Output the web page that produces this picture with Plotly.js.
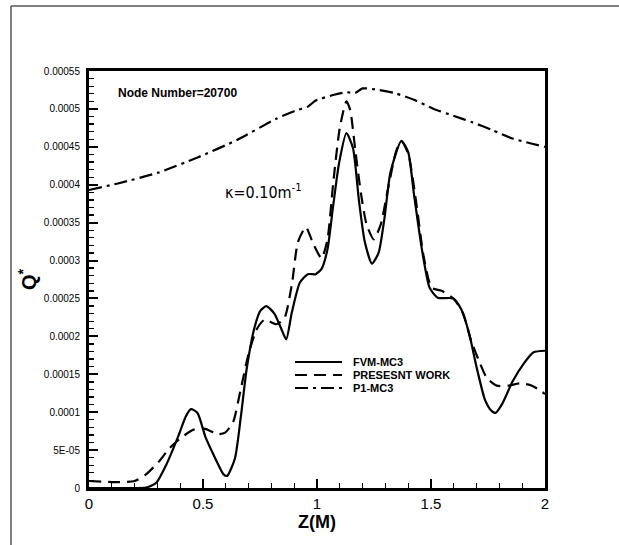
<!DOCTYPE html>
<html>
<head>
<meta charset="utf-8">
<script src="https://cdn.plot.ly/plotly-3.0.1.min.js"></script>
<style>
html,body{margin:0;padding:0;background:#fff;}
#chart{width:619px;height:545px;}
</style>
</head>
<body>
<div id="chart"></div>
<script>
// FVM-MC3 (solid)
var fvmZ = [0, 0.1, 0.2, 0.25, 0.295, 0.338, 0.39, 0.424, 0.447, 0.476, 0.511, 0.554, 0.59, 0.606, 0.64, 0.666, 0.692, 0.727, 0.752, 0.778, 0.813, 0.842, 0.865, 0.89, 0.925, 0.96, 0.994, 1.02, 1.046, 1.07, 1.097, 1.129, 1.158, 1.184, 1.21, 1.241, 1.27, 1.296, 1.322, 1.37, 1.4, 1.425, 1.46, 1.494, 1.529, 1.598, 1.632, 1.667, 1.701, 1.736, 1.762, 1.783, 1.814, 1.857, 1.909, 1.95, 2.0];
var fvmQ = [0, 0, 0, 0.0000005, 0.0000069, 0.00003, 0.000067, 0.000094, 0.000104, 0.000099, 0.000067, 0.000039, 0.000018, 0.000016, 0.000039, 0.000094, 0.000158, 0.000213, 0.000234, 0.00024, 0.00023, 0.000211, 0.000196, 0.000232, 0.000271, 0.000282, 0.000282, 0.000289, 0.000315, 0.00037, 0.000429, 0.000468, 0.000448, 0.000379, 0.000324, 0.000296, 0.00031, 0.000356, 0.000416, 0.000458, 0.000443, 0.000388, 0.000315, 0.000264, 0.000251, 0.00025, 0.000236, 0.000204, 0.000158, 0.000117, 0.000103, 0.000099, 0.000112, 0.00014, 0.000165, 0.000179, 0.000181];

// PRESESNT WORK (dashed)
var presZ = [0, 0.114, 0.2, 0.25, 0.304, 0.355, 0.407, 0.459, 0.51, 0.563, 0.597, 0.632, 0.666, 0.7, 0.735, 0.77, 0.821, 0.856, 0.89, 0.916, 0.951, 0.985, 1.02, 1.046, 1.071, 1.1, 1.129, 1.146, 1.167, 1.193, 1.218, 1.249, 1.279, 1.313, 1.348, 1.37, 1.4, 1.434, 1.468, 1.503, 1.546, 1.598, 1.641, 1.675, 1.71, 1.745, 1.788, 1.84, 1.89, 1.943, 2.0];
var presQ = [0.0000092, 0.0000078, 0.0000092, 0.000018, 0.000034, 0.000053, 0.000067, 0.000077, 0.000078, 0.000071, 0.000073, 0.000087, 0.000131, 0.000177, 0.000209, 0.000222, 0.000216, 0.000223, 0.000269, 0.000324, 0.000344, 0.000321, 0.000303, 0.000328, 0.000402, 0.000475, 0.00051, 0.000498, 0.000448, 0.000388, 0.000347, 0.000328, 0.000347, 0.000397, 0.000445, 0.000457, 0.000441, 0.000379, 0.000305, 0.000264, 0.00026, 0.00025, 0.00023, 0.000195, 0.000168, 0.000145, 0.000135, 0.000135, 0.000138, 0.000135, 0.000124];

// P1-MC3 (dash-dot)
var p1Z = [0, 0.131, 0.304, 0.476, 0.649, 0.821, 0.908, 0.96, 0.994, 1.08, 1.132, 1.167, 1.2, 1.27, 1.339, 1.425, 1.512, 1.598, 1.684, 1.77, 1.857, 2.0];
var p1Q = [0.000393, 0.000402, 0.000416, 0.000436, 0.000459, 0.000487, 0.000498, 0.000503, 0.000511, 0.000519, 0.000522, 0.000521, 0.000527, 0.000525, 0.000521, 0.000512, 0.0005, 0.000491, 0.000482, 0.000472, 0.000461, 0.00045];

var seriesNames = ["FVM-MC3", "PRESESNT WORK", "P1-MC3"];

var yTickVals = [0, 0.00005, 0.0001, 0.00015, 0.0002, 0.00025, 0.0003, 0.00035, 0.0004, 0.00045, 0.0005, 0.00055];
var yTickText = ["0", "5E-05", "0.0001", "0.00015", "0.0002", "0.00025", "0.0003", "0.00035", "0.0004", "0.00045", "0.0005", "0.00055"];
var xTickVals = [0, 0.5, 1, 1.5, 2];
var xTickText = ["0", "0.5", "1", "1.5", "2"];

var FONT = "Liberation Sans, Arial, Helvetica, sans-serif";
var dashes = ["solid", "12px,7px", "13px,5px,3px,5px"];

var traces = [
  {x: fvmZ, y: fvmQ, name: seriesNames[0], mode: "lines",
   line: {color: "#000", width: 2.2, dash: dashes[0], shape: "spline", smoothing: 0.6}},
  {x: presZ, y: presQ, name: seriesNames[1], mode: "lines",
   line: {color: "#000", width: 2.2, dash: dashes[1], shape: "spline", smoothing: 0.6}},
  {x: p1Z, y: p1Q, name: seriesNames[2], mode: "lines",
   line: {color: "#000", width: 2.2, dash: dashes[2], shape: "spline", smoothing: 0.6}}
];

var W = 456, H = 417;
function px2x(p){ return (p - 89) / W; }
function py2y(p){ return (488 - p) / H; }

var shapes = [
  {type: "line", xref: "paper", yref: "paper", x0: px2x(11), x1: px2x(11), y0: py2y(6), y1: py2y(545),
   line: {color: "#555", width: 1.5}},
  {type: "line", xref: "paper", yref: "paper", x0: px2x(11), x1: px2x(619), y0: py2y(6), y1: py2y(6),
   line: {color: "#555", width: 1.5}}
];
var annotations = [
  {xref: "paper", yref: "paper", x: px2x(116), y: py2y(93), xanchor: "left", yanchor: "middle",
   text: "<b>Node Number=20700</b>", showarrow: false, font: {family: FONT, size: 12, color: "#000"}},
  {xref: "paper", yref: "paper", x: px2x(223), y: py2y(191), xanchor: "left", yanchor: "middle",
   text: "κ=0.10m<sup>-1</sup>", showarrow: false, font: {family: "DejaVu Sans Condensed, DejaVu Sans, sans-serif", size: 16, color: "#000"}},
  {xref: "paper", yref: "paper", x: px2x(317), y: py2y(522), xanchor: "center", yanchor: "middle",
   text: "<b>Z(M)</b>", showarrow: false, font: {family: FONT, size: 18, color: "#000"}}
];
// manual legend (line samples + labels)
var legRows = [362, 375, 388];
for (var i = 0; i < seriesNames.length; i++) {
  shapes.push({type: "line", xref: "paper", yref: "paper",
    x0: px2x(295), x1: px2x(342), y0: py2y(legRows[i]), y1: py2y(legRows[i]),
    line: {color: "#000", width: 2.2, dash: dashes[i]}});
  annotations.push({xref: "paper", yref: "paper", x: px2x(351), y: py2y(legRows[i]),
    xanchor: "left", yanchor: "middle", showarrow: false,
    text: "<b>" + seriesNames[i] + "</b>", font: {family: FONT, size: 11, color: "#000"}});
}

var layout = {
  width: 619, height: 545,
  margin: {l: 89, r: 74, t: 71, b: 57, pad: 0},
  paper_bgcolor: "#fff", plot_bgcolor: "#fff",
  font: {family: FONT, color: "#000"},
  showlegend: false,
  xaxis: {
    range: [0, 2], autorange: false,
    tickvals: xTickVals, ticktext: xTickText,
    ticks: "inside", ticklen: 9, tickwidth: 2, tickcolor: "#000",
    minor: {dtick: 0.1, ticks: "inside", ticklen: 5, tickwidth: 1.3, tickcolor: "#000", showgrid: false},
    showline: true, linewidth: 3, linecolor: "#000", mirror: true,
    showgrid: false, zeroline: false,
    tickfont: {family: FONT, size: 15, color: "#000"},
    ticklabelstandoff: 0
  },
  yaxis: {
    range: [0, 0.00055], autorange: false,
    tickvals: yTickVals, ticktext: yTickText,
    ticks: "inside", ticklen: 9, tickwidth: 2, tickcolor: "#000",
    minor: {dtick: 0.00001, ticks: "inside", ticklen: 5, tickwidth: 1.3, tickcolor: "#000", showgrid: false},
    showline: true, linewidth: 3, linecolor: "#000", mirror: true,
    showgrid: false, zeroline: false,
    tickfont: {family: FONT, size: 10, color: "#000"},
    ticklabelstandoff: 4,
    title: {text: "<b>Q<sup>*</sup></b>", font: {family: FONT, size: 20, color: "#000"}, standoff: 2}
  },
  annotations: annotations,
  shapes: shapes
};

Plotly.newPlot("chart", traces, layout, {displayModeBar: false, staticPlot: true});
</script>
</body>
</html>
